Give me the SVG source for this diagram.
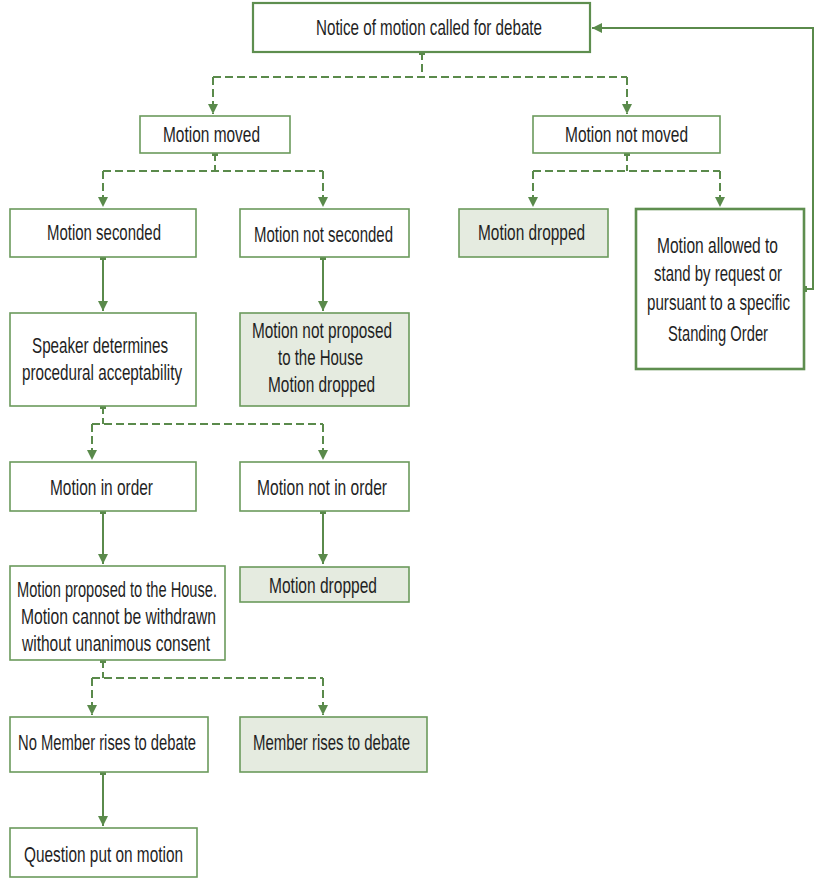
<svg xmlns="http://www.w3.org/2000/svg" width="819" height="888" viewBox="0 0 819 888">
<defs>
<style>
.box{fill:#ffffff;stroke:#6b9a5c;stroke-width:1.6}
.shade{fill:#e5ebe0}
.thick{stroke-width:2.6;stroke:#5e8e4f}
.top{stroke-width:2.2;stroke:#5e8e4f}
text{font-family:"Liberation Sans",Arial,sans-serif;font-size:22px;fill:#1f1f1f;text-anchor:middle}
.c{fill:none;stroke:#5a8a4b;stroke-width:2}
.d{stroke-dasharray:8 4}
.sq{fill:#5a8a4b}
</style>
<marker id="ah" viewBox="0 0 10 10" refX="10" refY="5" markerWidth="10" markerHeight="10" markerUnits="userSpaceOnUse" orient="auto">
<path d="M0,0 L10,5 L0,10 Z" fill="#5a8a4b"/>
</marker>
</defs>
<rect width="819" height="888" fill="#ffffff"/>

<g id="connectors">
<path class="c d" d="M422,52 V77 M213,77 H627" />
<path class="c d" d="M213,77 V114" marker-end="url(#ah)"/>
<path class="c d" d="M627,77 V114" marker-end="url(#ah)"/>
<rect class="sq" x="419" y="49" width="6" height="6"/>

<path class="c d" d="M215,153 V171 M103,171 H323"/>
<path class="c d" d="M103,171 V207" marker-end="url(#ah)"/>
<path class="c d" d="M323,171 V207" marker-end="url(#ah)"/>
<rect class="sq" x="212" y="150" width="6" height="6"/>

<path class="c d" d="M627,153 V171 M533,171 H720"/>
<path class="c d" d="M533,171 V207" marker-end="url(#ah)"/>
<path class="c d" d="M720,171 V207" marker-end="url(#ah)"/>
<rect class="sq" x="624" y="150" width="6" height="6"/>

<path class="c" d="M103,257 V311" marker-end="url(#ah)"/>
<rect class="sq" x="100" y="254" width="6" height="6"/>
<path class="c" d="M323,257 V311" marker-end="url(#ah)"/>
<rect class="sq" x="320" y="254" width="6" height="6"/>

<path class="c d" d="M103,406 V424 M92,424 H323"/>
<path class="c d" d="M92,424 V460" marker-end="url(#ah)"/>
<path class="c d" d="M323,424 V460" marker-end="url(#ah)"/>
<rect class="sq" x="100" y="403" width="6" height="6"/>

<path class="c" d="M103,511 V564" marker-end="url(#ah)"/>
<rect class="sq" x="100" y="508" width="6" height="6"/>
<path class="c" d="M323,511 V564" marker-end="url(#ah)"/>
<rect class="sq" x="320" y="508" width="6" height="6"/>

<path class="c d" d="M103,660 V678 M92,678 H323"/>
<path class="c d" d="M92,678 V715" marker-end="url(#ah)"/>
<path class="c d" d="M323,678 V715" marker-end="url(#ah)"/>
<rect class="sq" x="100" y="657" width="6" height="6"/>

<path class="c" d="M103,772 V826" marker-end="url(#ah)"/>
<rect class="sq" x="100" y="769" width="6" height="6"/>

<path class="c" d="M804,289 H813 V28 H592" marker-end="url(#ah)"/>
<rect class="sq" x="801" y="286" width="6" height="6"/>
</g>

<g id="n1"><rect class="box top" x="253" y="3" width="337" height="49"/><text transform="matrix(0.69 0 0 1 429 35)" textLength="327.5" lengthAdjust="spacingAndGlyphs">Notice of motion called for debate</text></g>
<g id="n2"><rect class="box" x="140" y="116" width="150" height="37"/><text transform="matrix(0.69 0 0 1 211.5 142)" textLength="140.6" lengthAdjust="spacingAndGlyphs">Motion moved</text></g>
<g id="n3"><rect class="box" x="533" y="116" width="187" height="37"/><text transform="matrix(0.69 0 0 1 626.5 142)" textLength="178.3" lengthAdjust="spacingAndGlyphs">Motion not moved</text></g>
<g id="n4"><rect class="box" x="10" y="209" width="186" height="48"/><text transform="matrix(0.69 0 0 1 104 240)" textLength="165.2" lengthAdjust="spacingAndGlyphs">Motion seconded</text></g>
<g id="n5"><rect class="box" x="240" y="209" width="169" height="48"/><text transform="matrix(0.69 0 0 1 323.5 242)" textLength="201.4" lengthAdjust="spacingAndGlyphs">Motion not seconded</text></g>
<g id="n6"><rect class="box shade" x="459" y="209" width="149" height="48"/><text transform="matrix(0.69 0 0 1 531.5 240)" textLength="155.1" lengthAdjust="spacingAndGlyphs">Motion dropped</text></g>
<g id="n7"><rect class="box thick" x="636" y="209" width="168" height="160"/>
<text transform="matrix(0.69 0 0 1 717.5 253)" textLength="175.4" lengthAdjust="spacingAndGlyphs">Motion allowed to</text>
<text transform="matrix(0.69 0 0 1 718 281)" textLength="185.5" lengthAdjust="spacingAndGlyphs">stand by request or</text>
<text transform="matrix(0.69 0 0 1 718.5 310)" textLength="207.2" lengthAdjust="spacingAndGlyphs">pursuant to a specific</text>
<text transform="matrix(0.69 0 0 1 718 341)" textLength="144.9" lengthAdjust="spacingAndGlyphs">Standing Order</text></g>
<g id="n8"><rect class="box" x="10" y="313" width="186" height="93"/>
<text transform="matrix(0.69 0 0 1 100 353)" textLength="197.1" lengthAdjust="spacingAndGlyphs">Speaker determines</text>
<text transform="matrix(0.69 0 0 1 102 380)" textLength="231.9" lengthAdjust="spacingAndGlyphs">procedural acceptability</text></g>
<g id="n9"><rect class="box shade" x="240" y="313" width="169" height="93"/>
<text transform="matrix(0.69 0 0 1 322 338)" textLength="202.9" lengthAdjust="spacingAndGlyphs">Motion not proposed</text>
<text transform="matrix(0.69 0 0 1 320.5 365)" textLength="123.2" lengthAdjust="spacingAndGlyphs">to the House</text>
<text transform="matrix(0.69 0 0 1 321.5 392)" textLength="155.1" lengthAdjust="spacingAndGlyphs">Motion dropped</text></g>
<g id="n10"><rect class="box" x="10" y="462" width="186" height="49"/><text transform="matrix(0.69 0 0 1 101.5 495)" textLength="149.3" lengthAdjust="spacingAndGlyphs">Motion in order</text></g>
<g id="n11"><rect class="box" x="240" y="462" width="169" height="49"/><text transform="matrix(0.69 0 0 1 322 495)" textLength="188.4" lengthAdjust="spacingAndGlyphs">Motion not in order</text></g>
<g id="n12"><rect class="box" x="10" y="566" width="215" height="94"/>
<text transform="matrix(0.69 0 0 1 117 597)" textLength="289.9" lengthAdjust="spacingAndGlyphs">Motion proposed to the House.</text>
<text transform="matrix(0.69 0 0 1 118.5 624)" textLength="282.6" lengthAdjust="spacingAndGlyphs">Motion cannot be withdrawn</text>
<text transform="matrix(0.69 0 0 1 116 651)" textLength="272.5" lengthAdjust="spacingAndGlyphs">without unanimous consent</text></g>
<g id="n13"><rect class="box shade" x="240" y="567" width="169" height="35"/><text transform="matrix(0.69 0 0 1 323 593)" textLength="156.5" lengthAdjust="spacingAndGlyphs">Motion dropped</text></g>
<g id="n14"><rect class="box" x="10" y="717" width="198" height="55"/><text transform="matrix(0.69 0 0 1 107 750)" textLength="258" lengthAdjust="spacingAndGlyphs">No Member rises to debate</text></g>
<g id="n15"><rect class="box shade" x="240" y="717" width="187" height="55"/><text transform="matrix(0.69 0 0 1 331.5 750)" textLength="227.5" lengthAdjust="spacingAndGlyphs">Member rises to debate</text></g>
<g id="n16"><rect class="box" x="10" y="828" width="187" height="49"/><text transform="matrix(0.69 0 0 1 103.5 862)" textLength="230.4" lengthAdjust="spacingAndGlyphs">Question put on motion</text></g>
</svg>
